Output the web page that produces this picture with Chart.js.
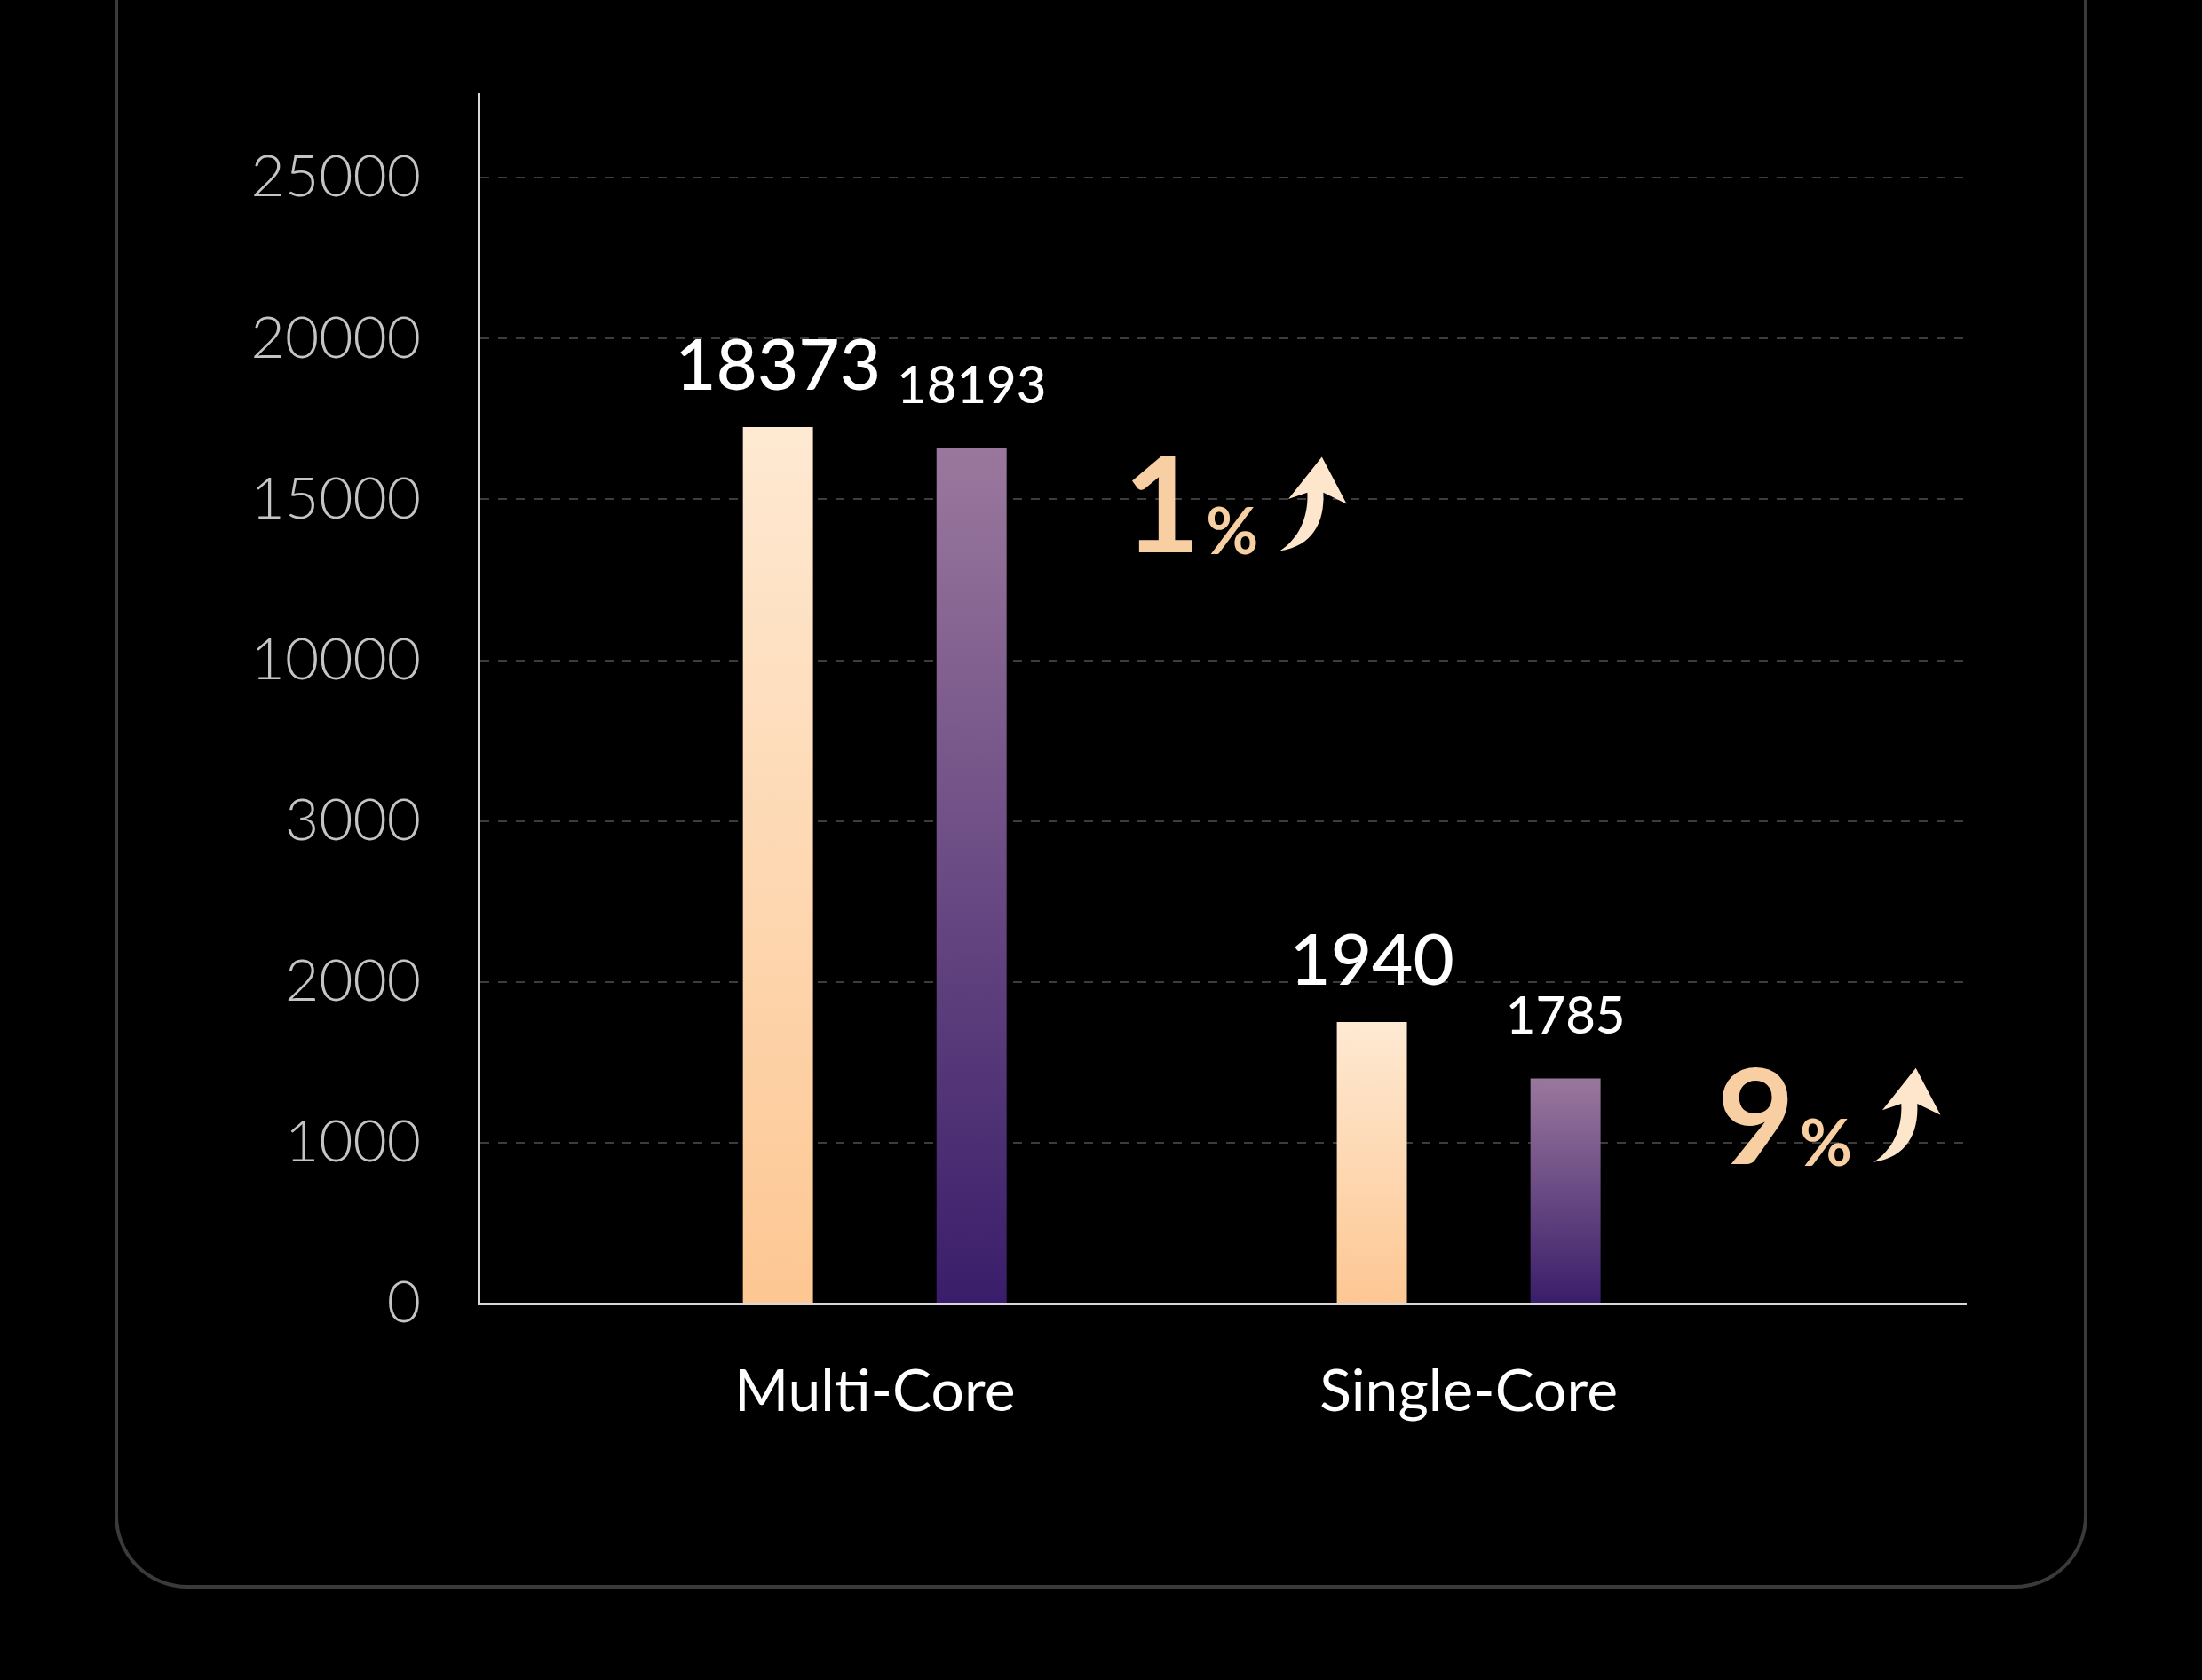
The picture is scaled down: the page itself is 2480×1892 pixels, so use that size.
<!DOCTYPE html>
<html>
<head>
<meta charset="utf-8">
<script src="https://cdn.jsdelivr.net/npm/chart.js@4.4.1/dist/chart.umd.min.js"></script>
<style>
  html, body { margin: 0; padding: 0; background: #000; }
  canvas { display: block; }
</style>
</head>
<body>
<canvas id="chart" width="2480" height="1892"></canvas>
<script>
// Data (the y axis is not linear: ticks are evenly spaced, so heights are in tick steps)
const categories = ['Multi-Core', 'Single-Core'];
const tickLabels = ['0', '1000', '2000', '3000', '10000', '15000', '20000', '25000'];
const newChipHeights = [5.45, 1.75];   // bar tops, in tick steps
const oldChipHeights = [5.32, 1.40];
const newChipScores = ['18373', '1940'];
const oldChipScores = ['18193', '1785'];
const gains = ['1', '9'];
const gainLevels = [5.0, 1.2];

const FONT = 'Lato, "Open Sans", sans-serif';

function barGradient(context, top, bottom) {
    const chart = context.chart;
    const area = chart.chartArea;
    if (!area) return bottom;
    const y = chart.scales.y.getPixelForValue(context.raw.y);
    const g = chart.ctx.createLinearGradient(0, y, 0, area.bottom);
    g.addColorStop(0, top);
    g.addColorStop(1, bottom);
    return g;
}

// Rounded card frame behind the chart
const framePlugin = {
    id: 'frame',
    beforeDraw(chart) {
        const ctx = chart.ctx;
        ctx.save();
        ctx.fillStyle = '#000';
        ctx.fillRect(0, 0, chart.width, chart.height);
        ctx.strokeStyle = '#3a3a3a';
        ctx.lineWidth = 4;
        ctx.beginPath();
        ctx.roundRect(131, -100, 2218, 1887, 80);
        ctx.stroke();
        ctx.restore();
    }
};

function drawArrow(ctx, x, y, w, h) {
    // curved upward arrow, (x, y) = bottom-left
    ctx.beginPath();
    ctx.moveTo(x, y);
    ctx.bezierCurveTo(x + w * 0.45, y - h * 0.05, x + w * 0.62, y - h * 0.3, x + w * 0.6, y - h * 0.62);
    ctx.lineTo(x + w * 0.92, y - h * 0.5);
    ctx.lineTo(x + w * 0.58, y - h);
    ctx.lineTo(x + w * 0.12, y - h * 0.55);
    ctx.lineTo(x + w * 0.38, y - h * 0.62);
    ctx.bezierCurveTo(x + w * 0.4, y - h * 0.35, x + w * 0.25, y - h * 0.12, x, y);
    ctx.closePath();
    ctx.fill();
}

const labelPlugin = {
    id: 'labels',
    afterDatasetsDraw(chart) {
        const ctx = chart.ctx;
        const xs = chart.scales.x, ys = chart.scales.y;
        ctx.save();
        ctx.fillStyle = '#fff';
        ctx.textAlign = 'center';
        ctx.textBaseline = 'bottom';
        chart.getDatasetMeta(0).data.forEach((bar, i) => {
            ctx.font = '500 80px ' + FONT;
            ctx.fillText(newChipScores[i], bar.x, bar.y - 28);
        });
        chart.getDatasetMeta(1).data.forEach((bar, i) => {
            ctx.font = '500 58px ' + FONT;
            ctx.fillText(oldChipScores[i], bar.x, bar.y - 40);
        });
        // gain annotations
        ctx.fillStyle = '#f8cfa2';
        ctx.textAlign = 'left';
        ctx.textBaseline = 'alphabetic';
        gains.forEach((g, i) => {
            const x0 = xs.getPixelForValue(i) + 280;
            const yc = ys.getPixelForValue(gainLevels[i]);
            ctx.font = 'bold 150px ' + FONT;
            ctx.fillText(g, x0, yc + 60);
            const w = ctx.measureText(g).width;
            ctx.font = 'bold 72px ' + FONT;
            ctx.fillText('%', x0 + w + 6, yc + 62);
            const w2 = ctx.measureText('%').width;
            ctx.fillStyle = '#fde6cc';
            drawArrow(ctx, x0 + w + w2 + 30, yc + 58, 82, 106);
            ctx.fillStyle = '#f8cfa2';
        });
        ctx.restore();
    }
};

const chart = new Chart(document.getElementById('chart'), {
    type: 'bar',
    data: {
        datasets: [
            {
                label: 'New',
                data: newChipHeights.map((v, i) => ({ x: i, y: v })),
                backgroundColor: c => barGradient(c, '#fee9d2', '#fdc793')
            },
            {
                label: 'Previous',
                data: oldChipHeights.map((v, i) => ({ x: i, y: v })),
                backgroundColor: c => barGradient(c, '#9a789d', '#3a1d6a')
            }
        ]
    },
    options: {
        responsive: false,
        devicePixelRatio: 1,
        animation: false,
        categoryPercentage: 0.652,
        barPercentage: 0.362,
        layout: { padding: { top: 106, right: 266, left: 0, bottom: 0 } },
        plugins: { legend: { display: false }, tooltip: { enabled: false } },
        scales: {
            x: {
                type: 'linear',
                min: -0.667,
                max: 1.837,
                offset: false,
                afterBuildTicks: s => { s.ticks = categories.map((c, i) => ({ value: i })); },
                afterFit: s => { s.height = 424; },
                grid: { display: false, drawTicks: false },
                border: { color: '#d8d8d8', width: 3 },
                ticks: {
                    color: '#ffffff',
                    padding: 60,
                    font: { family: FONT, size: 66 },
                    callback: v => categories[v] ?? ''
                }
            },
            y: {
                min: 0,
                max: 7.52,
                afterBuildTicks: s => { s.ticks = tickLabels.map((t, i) => ({ value: i })); },
                afterFit: s => { s.width = 539; },
                grid: {
                    color: '#3c3c3c',
                    lineWidth: 2,
                    drawTicks: false,
                    tickBorderDash: [0],
                },
                border: { color: '#d8d8d8', width: 3, dash: [10, 10] },
                ticks: {
                    color: '#c4c4c4',
                    padding: 65,
                    font: { family: FONT, size: 66, weight: 300 },
                    callback: v => tickLabels[v] ?? ''
                }
            }
        }
    },
    plugins: [framePlugin, labelPlugin]
});
</script>
</body>
</html>
